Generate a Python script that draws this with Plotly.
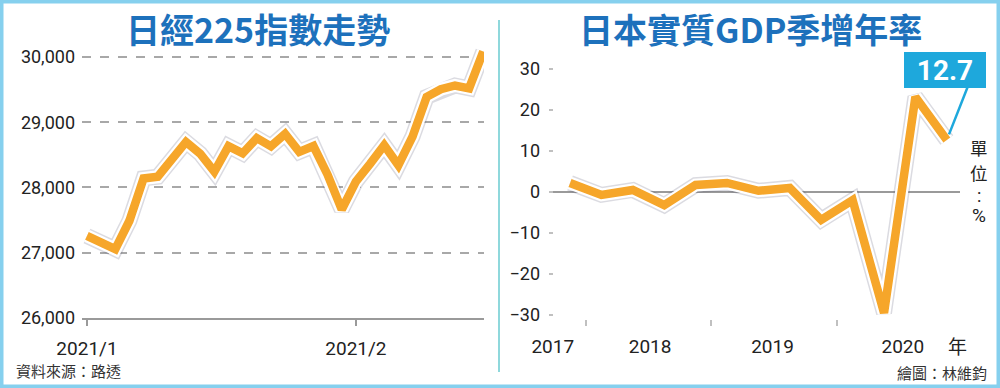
import plotly.graph_objects as go

# ---------------- data ----------------
nikkei_dates = [
    "2021-01-04", "2021-01-05", "2021-01-06", "2021-01-07", "2021-01-08",
    "2021-01-12", "2021-01-13", "2021-01-14", "2021-01-15",
    "2021-01-18", "2021-01-19", "2021-01-20", "2021-01-21", "2021-01-22",
    "2021-01-25", "2021-01-26", "2021-01-27", "2021-01-28", "2021-01-29",
    "2021-02-01", "2021-02-02", "2021-02-03", "2021-02-04", "2021-02-05",
    "2021-02-08", "2021-02-09", "2021-02-10", "2021-02-12", "2021-02-15",
]
nikkei_values = [
    27258, 27159, 27056, 27490, 28139,
    28164, 28457, 28698, 28519,
    28242, 28633, 28523, 28757, 28631,
    28822, 28546, 28635, 28197, 27663,
    28091, 28362, 28647, 28342, 28779,
    29389, 29506, 29563, 29520, 30084,
]
nikkei_tick_labels = ["2021/1", "2021/2"]
nikkei_tick_dates = ["2021-01-04", "2021-02-01"]
nikkei_y_ticks = [26000, 27000, 28000, 29000, 30000]

gdp_quarters = ["2017Q4", "2018Q1", "2018Q2", "2018Q3", "2018Q4",
                "2019Q1", "2019Q2", "2019Q3", "2019Q4",
                "2020Q1", "2020Q2", "2020Q3", "2020Q4"]
gdp_values = [2.2, -0.7, 0.5, -3.2, 1.7, 2.2, 0.3, 1.0, -6.8, -2.0, -29.5, 23.2, 12.7]
gdp_year_labels = ["2017", "2018", "2019", "2020"]
gdp_y_ticks = [-30, -20, -10, 0, 10, 20, 30]

# ---------------- styles ----------------
ORANGE = "#f6a62a"
BLUE_TITLE = "#1d71bc"
CALLOUT = "#1ea8dc"
FRAME = "#86d0ee"
TXT = "#222222"
LATIN = "Roboto, 'Noto Sans', sans-serif"
CJK = "'Noto Sans CJK TC', 'Noto Sans CJK SC', sans-serif"

nx = list(range(len(nikkei_dates)))
gx = list(range(len(gdp_quarters)))

fig = go.Figure()

def add_fancy_line(x, y, xa, ya):
    fig.add_trace(go.Scatter(x=x, y=y, mode="lines", xaxis=xa, yaxis=ya,
                             line=dict(color="rgba(90,90,120,0.22)", width=16),
                             hoverinfo="skip"))
    fig.add_trace(go.Scatter(x=x, y=y, mode="lines", xaxis=xa, yaxis=ya,
                             line=dict(color="white", width=13),
                             hoverinfo="skip"))
    fig.add_trace(go.Scatter(x=x, y=y, mode="lines", xaxis=xa, yaxis=ya,
                             line=dict(color=ORANGE, width=8.5)))

add_fancy_line(nx, nikkei_values, "x", "y")
add_fancy_line(gx, gdp_values, "x2", "y2")

n_tickvals = [nikkei_dates.index(d) for d in nikkei_tick_dates]

fig.update_layout(
    width=1000, height=388,
    margin=dict(l=0, r=0, t=0, b=0, pad=0, autoexpand=False),
    paper_bgcolor="white", plot_bgcolor="rgba(0,0,0,0)",
    showlegend=False,
    xaxis=dict(
        domain=[0.082, 0.484], range=[-0.35, len(nx) - 0.95], anchor="y",
        automargin=False,
        tickvals=n_tickvals, ticktext=nikkei_tick_labels,
        ticks="outside", ticklen=6, tickcolor="#9a9a9a", tickwidth=1.5,
        showline=True, linecolor="#9a9a9a", linewidth=1.5,
        showgrid=False, zeroline=False,
        tickfont=dict(family=LATIN, size=19, color=TXT),
        ticklabelstandoff=6,
    ),
    yaxis=dict(
        domain=[0.1804, 0.9036], range=[26000, 30300], anchor="x",
        automargin=False,
        tickvals=nikkei_y_ticks, tickformat=",",
        showgrid=True, gridcolor="#a8a8a8", gridwidth=1.5, griddash="dash",
        zeroline=False, showline=False, ticks="",
        tickfont=dict(family=LATIN, size=18, color=TXT),
        ticklabelstandoff=6,
    ),
    xaxis2=dict(
        domain=[0.549, 0.960], range=[-0.67, 12.42], anchor="free", position=0.1778,
        automargin=False,
        tickvals=[-0.55, 2.55, 6.45, 10.6], ticktext=gdp_year_labels,
        ticks="", showline=False, showgrid=False, zeroline=False,
        minor=dict(tickvals=[0.5, 4.5, 8.5], ticks="outside", ticklen=6,
                   tickcolor="#c0c0c0", tickwidth=2),
        tickfont=dict(family=LATIN, size=19, color=TXT),
        ticklabelstandoff=14,
    ),
    yaxis2=dict(
        domain=[0.1564, 0.8327], range=[-33, 31], anchor="x2",
        automargin=False,
        tickvals=gdp_y_ticks,
        ticks="inside", ticklen=4, tickcolor="#c0c0c0", tickwidth=1.5,
        zeroline=True, zerolinecolor="#9a9a9a", zerolinewidth=1.5,
        showgrid=False, showline=False,
        tickfont=dict(family=LATIN, size=18, color=TXT),
        ticklabelstandoff=8,
    ),
)

def paper_text(text, px, py, family, size, color=TXT, xanchor="center"):
    return dict(text=text, x=px / 1000, y=1 - py / 388, xref="paper", yref="paper",
                showarrow=False, font=dict(family=family, size=size, color=color),
                xanchor=xanchor, yanchor="middle")

annotations = [
    paper_text("<b>日經225指數走勢</b>", 258, 29, CJK, 34, BLUE_TITLE),
    paper_text("<b>日本實質GDP季增年率</b>", 750, 29, CJK, 34, BLUE_TITLE),
    paper_text("資料來源：路透", 14, 370, CJK, 15, "#333333", "left"),
    paper_text("繪圖：林維鈞", 989, 372, CJK, 15, "#333333", "right"),
    paper_text("年", 957, 345, CJK, 19),
    paper_text("單", 979, 147.5, CJK, 17.5),
    paper_text("位", 979, 172, CJK, 17.5),
    paper_text(":", 979, 195, LATIN, 18),
    paper_text("%", 979, 215, LATIN, 19),
    # pointer of callout
    dict(text="", x=gx[-1], y=gdp_values[-1], xref="x2", yref="y2",
         showarrow=True, arrowhead=0, arrowwidth=2.5, arrowcolor=CALLOUT,
         ax=22, ay=-56, standoff=6),
    # callout box
    dict(text="<b>%.1f</b>" % gdp_values[-1], x=0.945, y=1 - 70 / 388,
         xref="paper", yref="paper", showarrow=False,
         font=dict(family=LATIN, size=28, color="white"),
         bgcolor=CALLOUT, bordercolor=CALLOUT, borderwidth=1,
         width=78, height=32, xanchor="center", yanchor="middle"),
]
fig.update_layout(annotations=annotations)

fig.update_layout(shapes=[
    dict(type="rect", xref="paper", yref="paper", x0=0, x1=1, y0=0, y1=1,
         line=dict(color=FRAME, width=7), layer="above"),
    dict(type="line", xref="paper", yref="paper", x0=0.499, x1=0.499,
         y0=1 - 372 / 388, y1=1 - 20 / 388,
         line=dict(color="#8fd8dc", width=2)),
])

fig.write_html(
    "out.html",
    config={"displayModeBar": False},
    post_script="document.body.style.margin='0';document.body.style.overflow='hidden';",
)
